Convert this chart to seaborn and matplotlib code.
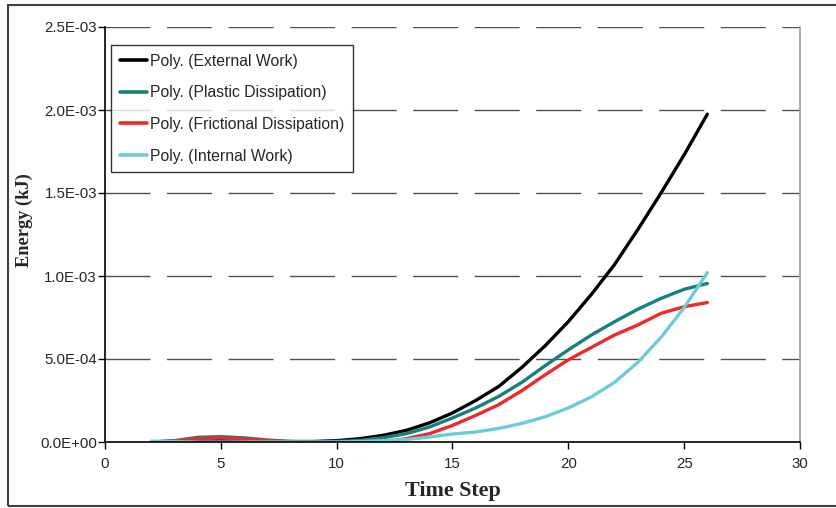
import matplotlib
matplotlib.use("Agg")
import matplotlib.pyplot as plt
import matplotlib.patches as mpatches
from matplotlib.ticker import FuncFormatter
import seaborn as sns
import pandas as pd

time_step = list(range(2, 27))
external_work = [0.0, 0.5e-5, 1.0e-5, 1.0e-5, 0.8e-5, 0.5e-5, 0.3e-5, 0.3e-5, 0.8e-5,
                 2.0e-5, 4.0e-5, 7.0e-5, 1.15e-4, 1.75e-4, 2.5e-4, 3.35e-4, 4.5e-4,
                 5.8e-4, 7.25e-4, 8.9e-4, 1.07e-3, 1.28e-3, 1.5e-3, 1.73e-3, 1.975e-3]
plastic_dissipation = [0.0, 0.8e-5, 2.8e-5, 3.2e-5, 2.5e-5, 1.2e-5, 0.3e-5, 0.0, 0.3e-5,
                       1.0e-5, 2.5e-5, 5.0e-5, 9.0e-5, 1.45e-4, 2.05e-4, 2.75e-4, 3.6e-4,
                       4.6e-4, 5.55e-4, 6.45e-4, 7.25e-4, 8.0e-4, 8.65e-4, 9.2e-4, 9.55e-4]
frictional_dissipation = [0.0, 0.5e-5, 2.0e-5, 2.4e-5, 1.8e-5, 0.8e-5, 0.0, -0.3e-5, -0.5e-5,
                          -0.5e-5, 0.0, 2.0e-5, 5.0e-5, 1.0e-4, 1.6e-4, 2.25e-4, 3.1e-4,
                          4.05e-4, 4.95e-4, 5.7e-4, 6.45e-4, 7.05e-4, 7.75e-4, 8.15e-4, 8.4e-4]
internal_work = [0.5e-5, 0.2e-5, 0.0, 0.0, 0.0, 0.0, 0.0, 0.0, 0.0,
                 0.3e-5, 0.8e-5, 1.5e-5, 3.0e-5, 4.8e-5, 6.0e-5, 8.2e-5, 1.12e-4,
                 1.52e-4, 2.05e-4, 2.72e-4, 3.6e-4, 4.8e-4, 6.3e-4, 8.1e-4, 1.02e-3]

series_names = ["Poly. (External Work)", "Poly. (Plastic Dissipation)",
                "Poly. (Frictional Dissipation)", "Poly. (Internal Work)"]
series_values = [external_work, plastic_dissipation, frictional_dissipation, internal_work]
colors = ["#000000", "#16807a", "#f02828", "#6ccbd8"]

x_ticks = [0, 5, 10, 15, 20, 25, 30]
y_ticks = [0.0, 5e-4, 1e-3, 1.5e-3, 2e-3, 2.5e-3]

rows = []
for name, vals in zip(series_names, series_values):
    for t, v in zip(time_step, vals):
        rows.append({"Time Step": t, "Energy": v, "Series": name})
df = pd.DataFrame(rows)

sns.set_style("white")
plt.rcParams["font.family"] = ["Liberation Sans", "DejaVu Sans"]

fig = plt.figure(figsize=(8.37, 5.08), dpi=100)
ax = fig.add_axes([105 / 837, 66 / 508, 695 / 837, 415 / 508])

# figure border
fig.patches.append(mpatches.Rectangle((8 / 837, 2 / 508), 1.2, 501 / 508,
                                      transform=fig.transFigure, fill=False,
                                      edgecolor="#404040", linewidth=1.5, zorder=0))

sns.lineplot(data=df, x="Time Step", y="Energy", hue="Series",
             palette=dict(zip(series_names, colors)), linewidth=2.4, ax=ax,
             sort=False, estimator=None)

ax.set_xlim(0, 30)
ax.set_ylim(0, 2.5e-3)
ax.set_xticks(x_ticks)
ax.set_yticks(y_ticks)
ax.yaxis.set_major_formatter(FuncFormatter(lambda v, p: f"{v:.1E}"))

for y in y_ticks[1:]:
    ax.axhline(y, color="#505050", linewidth=1, linestyle=(0, (32.4, 11.9)), zorder=0.5)

for side in ["left", "bottom"]:
    ax.spines[side].set_color("black")
    ax.spines[side].set_linewidth(1.2)
ax.spines["right"].set_color("#a0a0a0")
ax.spines["right"].set_linewidth(1.2)
ax.spines["top"].set_visible(False)

ax.tick_params(axis="both", which="major", direction="out", length=5, width=1,
               color="black", labelsize=10.8, left=True, bottom=True)
ax.tick_params(axis="y", pad=0.8)
ax.tick_params(axis="x", pad=6)

ax.set_xlabel("Time Step", fontsize=15.8, fontweight="bold", family="Liberation Serif")
ax.set_ylabel("Energy (kJ)", fontsize=13.2, fontweight="bold", family="Liberation Serif")
ax.xaxis.set_label_coords(0.5, -0.095)
ax.yaxis.set_label_coords(-0.104, 0.535)

leg = ax.legend(loc="upper left", bbox_to_anchor=(6 / 695, 397 / 415), borderaxespad=0,
                frameon=True, fancybox=False, fontsize=11.3, handlelength=1.72,
                handletextpad=0.2, labelspacing=1.06, borderpad=0.55, title=None)
leg.get_frame().set_edgecolor("black")
leg.get_frame().set_linewidth(1)
for line in leg.get_lines():
    line.set_linewidth(2.6)

fig.savefig("out.png", dpi=100)
